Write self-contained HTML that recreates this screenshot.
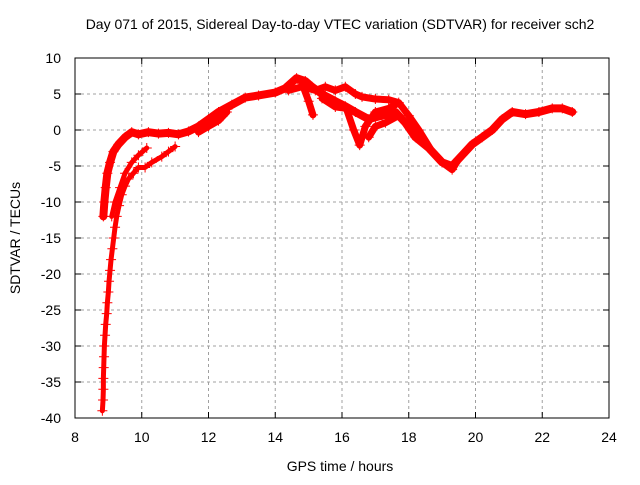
<!DOCTYPE html>
<html><head><meta charset="utf-8"><style>
body{margin:0;background:#fff}
svg{font-family:"Liberation Sans",sans-serif;font-size:14px}
</style></head><body>
<svg id="c" width="640" height="480">
<text x="340" y="29" text-anchor="middle">Day 071 of 2015, Sidereal Day-to-day VTEC variation (SDTVAR) for receiver sch2</text>
<text x="340" y="471" text-anchor="middle">GPS time / hours</text>
<text transform="translate(20,238) rotate(-90)" text-anchor="middle">SDTVAR / TECUs</text>
<g id="grid"></g><g id="marks"></g>
<rect x="75" y="58" width="534" height="360" fill="none" stroke="#000"/>
</svg>
<script>
const xTicks=[8,10,12,14,16,18,20,22,24];
const yTicks=[10,5,0,-5,-10,-15,-20,-25,-30,-35,-40];
const s1=[[8.85,-12],[8.88,-10],[8.92,-8],[8.97,-6],[9.05,-4.5],[9.15,-3],[9.3,-2],[9.5,-1],[9.7,-0.3],[9.9,-0.6],[10.2,-0.3],[10.5,-0.5],[10.8,-0.4],[11.1,-0.6],[11.4,-0.2],[11.7,0.5],[12,1.5],[12.3,2.5],[12.7,3.5],[13.1,4.5],[13.5,4.8],[14,5.2],[14.3,5.8],[14.64,7.2],[14.9,6.8],[15.1,6],[15.4,5],[15.8,4],[16.1,3.3],[16.4,2.5],[16.8,1.5],[17.2,2],[17.6,2.5],[17.9,1],[18.2,-1],[18.6,-2.5],[19.0,-4.5],[19.3,-5],[19.6,-3.5],[19.9,-2],[20.2,-1],[20.5,0],[20.8,1.5],[21.1,2.5],[21.5,2.2],[21.9,2.5],[22.3,3],[22.6,3],[22.9,2.5]];
const s2=[[8.82,-39],[8.84,-37.5],[8.85,-36],[8.85,-34.5],[8.86,-33],[8.87,-31.5],[8.88,-30],[8.9,-28.5],[8.92,-27],[8.95,-25.5],[8.97,-24],[9.0,-22.5],[9.02,-21],[9.05,-19.5],[9.08,-18],[9.12,-16.5],[9.16,-15],[9.2,-13.5],[9.25,-12],[9.32,-10.5],[9.4,-9],[9.5,-7.8],[9.6,-6.8],[9.75,-6],[9.9,-5.2],[10.1,-5.2],[10.3,-4.5],[10.6,-3.7],[10.8,-3],[11.0,-2.3]];
const s3=[[9.1,-12],[9.2,-10],[9.35,-8],[9.5,-6],[9.7,-4.5],[9.9,-3.5],[10.15,-2.5]];
const s4=[[11.7,-0.3],[12,0.5],[12.3,1.3],[12.55,2.5]];
const s5=[[14.4,5.5],[14.8,6],[15.2,5.5],[15.5,6],[15.8,5.5],[16.1,6],[16.4,5],[16.6,4.6],[17,4.3],[17.4,4.2],[17.7,3.8],[18,2],[18.3,0],[18.7,-3],[19,-4.5],[19.3,-5.5],[19.5,-4]];
const s6=[[14.8,6.5],[15.0,4],[15.13,2.1]];
const s7=[[15.4,4.4],[15.8,3.2],[16.13,3],[16.35,0],[16.53,-2.1],[16.7,0.5],[17,2.5],[17.4,3],[17.6,3.5]];
const s8=[[16.8,-1],[17,0.5],[17.3,1],[17.7,2]];
const series=[s1,s2,s3,s4,s5,s6,s7,s8];
const X=h=>75+(h-8)*534/16, Y=v=>58+(10-v)*7.2;
const NS='http://www.w3.org/2000/svg';
const grid=document.getElementById('grid'), marks=document.getElementById('marks');
function mk(t,a,p){const e=document.createElementNS(NS,t);for(const k in a)e.setAttribute(k,a[k]);p.appendChild(e);return e;}
xTicks.forEach(t=>{const x=X(t);
 if(t>8&&t<24){const l=mk('line',{x1:x,x2:x,y1:58,y2:418,stroke:'#a0a0a0','stroke-dasharray':'3,3'},grid);
 
 }
 mk('line',{x1:x,x2:x,y1:418,y2:412,stroke:'#000'},grid);mk('line',{x1:x,x2:x,y1:58,y2:64,stroke:'#000'},grid);
 const tx=mk('text',{x:x,y:442,'text-anchor':'middle'},grid);tx.textContent=t;
 
 });
yTicks.forEach(t=>{const y=Y(t);
 if(t<10&&t>-40){const l=mk('line',{x1:75,x2:609,y1:y,y2:y,stroke:'#a0a0a0','stroke-dasharray':'3,3'},grid);
 
 }
 mk('line',{x1:75,x2:81,y1:y,y2:y,stroke:'#000'},grid);mk('line',{x1:609,x2:603,y1:y,y2:y,stroke:'#000'},grid);
 const tx=mk('text',{x:61,y:y+5,'text-anchor':'end'},grid);tx.textContent=t;
 
 });
series.forEach((s,i)=>{
 const pl=mk('polyline',{points:s.map(p=>X(p[0])+','+Y(p[1])).join(' '),fill:'none',stroke:'#ff0000','stroke-width':i==1||i==2?5:(i==0?8:7),'stroke-linejoin':'round','stroke-linecap':'round'},marks);
 
 
 s.forEach(p=>{const x=X(p[0]),y=Y(p[1]);
  const m=mk('path',{d:`M${x-5},${y}H${x+5}M${x},${y-5}V${y+5}`,stroke:'#ff0000','stroke-width':1},marks);
  
  });
});
</script>
</body></html>
